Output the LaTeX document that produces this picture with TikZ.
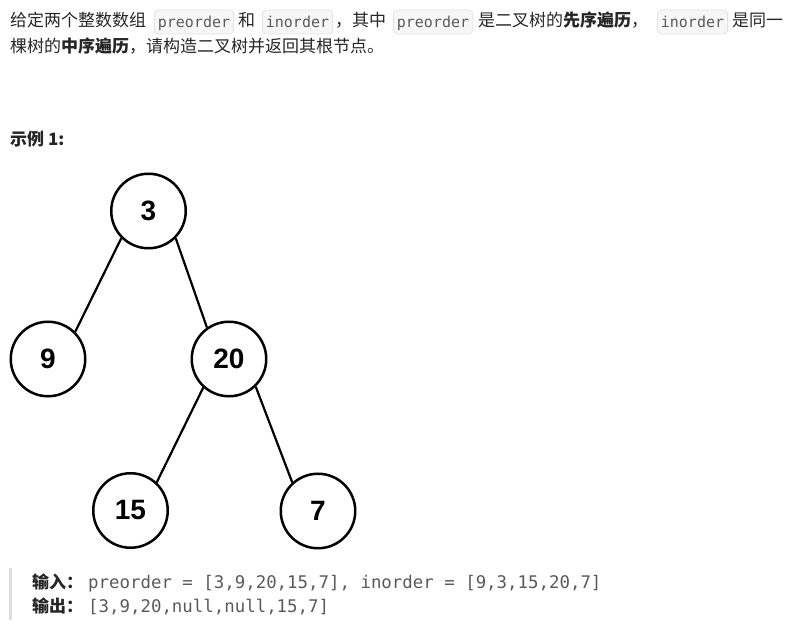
\documentclass[tikz,border=0pt]{standalone}
\usepackage{fontspec}
\usepackage{tikz}
\usetikzlibrary{positioning}
\setmainfont{Noto Sans CJK SC}
\newfontfamily\codefont{DejaVu Sans Mono}
\newfontfamily\numfont{Liberation Sans}
\definecolor{ink}{HTML}{262626}
\definecolor{codefill}{HTML}{F7F7F8}
\definecolor{codeline}{HTML}{E3E3E6}
\definecolor{codeink}{HTML}{5A5A5A}
\definecolor{quotebar}{HTML}{DDDDDD}

\begin{document}
\begin{tikzpicture}[
        x=1pt, y=-1pt,
        txt/.style={inner sep=0pt, anchor=base west, text=ink,
                    font=\fontsize{17}{20}\selectfont},
        codebox/.style={anchor=base west, rounded corners=4pt, draw=codeline, fill=codefill,
                    line width=0.8pt, text=codeink, inner xsep=3.5pt, inner ysep=0pt,
                    text height=18pt, text depth=6pt, font=\codefont\fontsize{15}{18}\selectfont},
        codeline/.style={inner sep=0pt, anchor=base west, text=codeink,
                    font=\codefont\fontsize{17.4}{20}\selectfont},
        vertex/.style={circle, draw=black, line width=2.5pt, minimum size=74.5pt,
                    inner sep=0pt, font=\numfont\bfseries\fontsize{28}{30}\selectfont},
        edge/.style={line width=2.2pt, black}
      ]
        \useasboundingbox (0,0) rectangle (798,628);
        % problem text
        \node[txt] (t1) at (10,27) {给定两个整数数组};
        \node[codebox] (pre1) at (154,28) {preorder};
        \node[txt] (t2) at (238,27) {和};
        \node[codebox] (in1) at (262,28) {inorder};
        \node[txt] (t3) at (335,27) {，其中};
        \node[codebox] (pre2) at (393,28) {preorder};
        \node[txt] (t4) at (478,27) {是二叉树的\textbf{先序遍历}，};
        \node[codebox] (in2) at (657,28) {inorder};
        \node[txt] (t5) at (732,27) {是同一};
        \node[txt] (t6) at (10,53) {棵树的\textbf{中序遍历}，请构造二叉树并返回其根节点。};
        \node[txt, font=\bfseries\fontsize{17}{20}\selectfont] (ex) at (10,146) {示例 1:};
        % tree
        \node[vertex] (n3) at (148.5,211) {3};
        \node[vertex] (n9) at (48,359) {9};
        \node[vertex] (n20) at (229,359) {20};
        \node[vertex] (n15) at (130.5,510.5) {15};
        \node[vertex] (n7) at (318,511) {7};
        \draw[edge] (n3.225) -- (n9.45);
        \draw[edge] (n3.315) -- (n20.125);
        \draw[edge] (n20.228) -- (n15.47);
        \draw[edge] (n20.314) -- (n7.132);
        % input / output
        \fill[quotebar] (9,568) rectangle (11.5,620);
        \node[txt, font=\bfseries\fontsize{17}{20}\selectfont] (inl) at (32,588) {输入：};
        \node[codeline] (inv) at (88,588) {preorder = [3,9,20,15,7], inorder = [9,3,15,20,7]};
        \node[txt, font=\bfseries\fontsize{17}{20}\selectfont] (outl) at (32,612) {输出：};
        \node[codeline] (outv) at (88,612) {[3,9,20,null,null,15,7]};
      \end{tikzpicture}
\end{document}
